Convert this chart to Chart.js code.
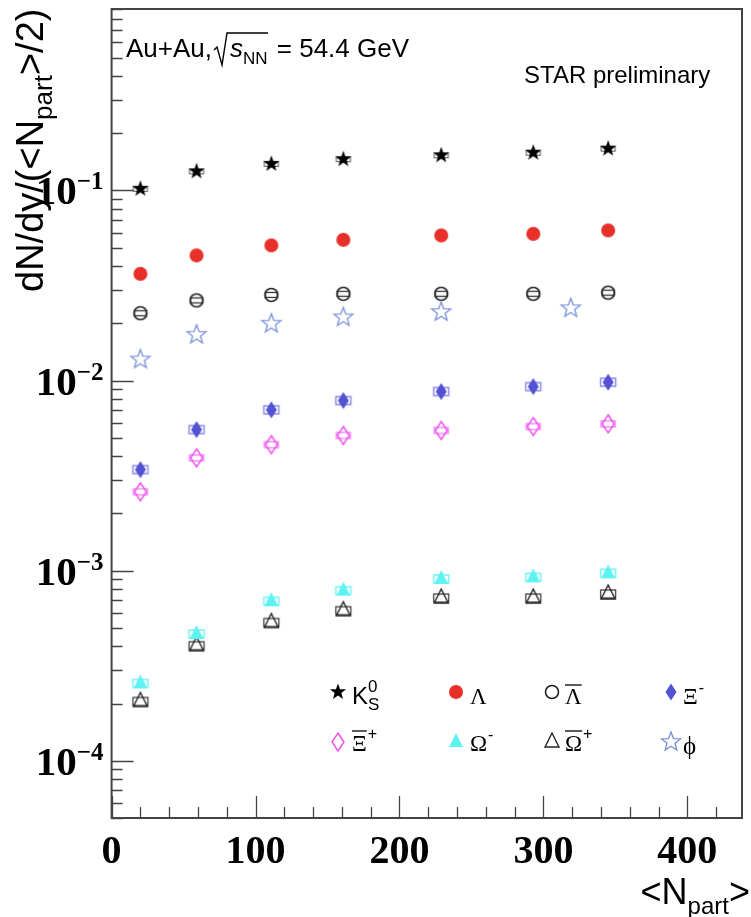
<!DOCTYPE html>
<html>
<head>
<meta charset="utf-8">
<script src="https://cdn.jsdelivr.net/npm/chart.js@4.4.1/dist/chart.umd.min.js"></script>
<style>
  html, body { margin: 0; padding: 0; background: #fff; }
  canvas { display: block; }
</style>
</head>
<body>
<canvas id="chart" width="751" height="917"></canvas>
<script>
// <Npart> per centrality class (phi has 0-10% merged)
const npart = [20, 59, 111, 161, 229, 293, 345];
const npartPhi = [20, 59, 111, 161, 229, 319];

// dN/dy / (<Npart>/2)
const k0s = [0.102, 0.126, 0.138, 0.146, 0.153, 0.158, 0.166];
const lambda = [0.0364, 0.0455, 0.0514, 0.055, 0.058, 0.0591, 0.0616];
const antiLambda = [0.0226, 0.0264, 0.0282, 0.0286, 0.0286, 0.0286, 0.029];
const xiMinus = [0.0034, 0.00552, 0.00701, 0.00785, 0.00875, 0.00929, 0.0098];
const xiPlus = [0.0026, 0.00392, 0.0046, 0.00514, 0.00546, 0.00573, 0.00592];
const omegaMinus = [0.000255, 0.000464, 0.00069, 0.000785, 0.000904, 0.000922, 0.000968];
const omegaPlus = [0.000205, 0.000403, 0.000534, 0.000616, 0.000718, 0.000718, 0.000754];
const phi = [0.0129, 0.0174, 0.0199, 0.0215, 0.0229, 0.024];

// axes
const xMajorTicks = [0, 100, 200, 300, 400];
const xTickLabels = ['0', '100', '200', '300', '400'];
const xMinorStep = 20;
const yMajorTicks = [1e-1, 1e-2, 1e-3, 1e-4];
const yTickExponents = ['\u22121', '\u22122', '\u22123', '\u22124'];
const yDecadeExps = [-5, -4, -3, -2, -1];

const SANS = '"Liberation Sans", Arial, Helvetica, sans-serif';
const SERIF = '"Liberation Serif", "Times New Roman", serif';

// ---- marker images ----
function makeMarker(size, draw) {
    const c = document.createElement('canvas');
    c.width = size; c.height = size;
    const g = c.getContext('2d');
    g.translate(size / 2, size / 2);
    draw(g);
    return c;
}
function starPath(g, R, r) {
    g.beginPath();
    for (let i = 0; i < 10; i++) {
        const a = -Math.PI / 2 + i * Math.PI / 5;
        const rad = i % 2 === 0 ? R : r;
        g.lineTo(rad * Math.cos(a), rad * Math.sin(a));
    }
    g.closePath();
}
function diamondPath(g, hw, hh) {
    g.beginPath();
    g.moveTo(0, -hh); g.lineTo(hw, 0); g.lineTo(0, hh); g.lineTo(-hw, 0);
    g.closePath();
}
function trianglePath(g, hw, top, bottom) {
    g.beginPath();
    g.moveTo(0, -top); g.lineTo(hw, bottom); g.lineTo(-hw, bottom);
    g.closePath();
}
function sysBox(g, w, h, color, lw) {
    g.strokeStyle = color; g.lineWidth = lw;
    g.strokeRect(-w / 2, -h / 2, w, h);
}

const markers = {
    k0s: (box) => makeMarker(24, g => {
        if (box) sysBox(g, 14, 5, '#555', 1);
        starPath(g, 8.5, 3.5); g.fillStyle = '#000'; g.fill();
    }),
    lambda: () => makeMarker(20, g => {
        g.beginPath(); g.arc(0, 0, 7, 0, Math.PI * 2); g.fillStyle = '#e8302a'; g.fill();
    }),
    antiLambda: (box) => makeMarker(20, g => {
        if (box) sysBox(g, 12, 5, '#333', 1.3);
        g.beginPath(); g.arc(0, 0, 6.5, 0, Math.PI * 2);
        g.strokeStyle = '#222'; g.lineWidth = 1.6; g.stroke();
    }),
    xiMinus: (box) => makeMarker(24, g => {
        if (box) sysBox(g, 15, 8, '#8a8ae6', 1.5);
        diamondPath(g, 5.5, 8.5); g.fillStyle = '#5252d2'; g.fill();
    }),
    xiPlus: (box) => makeMarker(24, g => {
        if (box) sysBox(g, 14, 6, '#f070f0', 1.2);
        diamondPath(g, 6, 9); g.strokeStyle = '#f050f0'; g.lineWidth = 1.5; g.stroke();
    }),
    omegaMinus: (box) => makeMarker(24, g => {
        if (box) sysBox(g, 15, 8, '#70f4f4', 1.5);
        trianglePath(g, 7, 9, 5); g.fillStyle = '#5ef2f2'; g.fill();
    }),
    omegaPlus: (box) => makeMarker(24, g => {
        if (box) sysBox(g, 15, 8, '#333', 1.2);
        trianglePath(g, 7, 9, 5); g.strokeStyle = '#222'; g.lineWidth = 1.4; g.stroke();
    }),
    phi: () => makeMarker(26, g => {
        starPath(g, 10, 4.2); g.strokeStyle = '#7890d8'; g.lineWidth = 1.3; g.stroke();
    })
};

function series(label, xs, ys, key) {
    return {
        label: label,
        data: xs.map((x, i) => ({ x: x, y: ys[i] })),
        pointStyle: markers[key](true),
        legendStyle: markers[key](false),
        pointRadius: 8,
        showLine: false
    };
}

const datasets = [
    series('K0S', npart, k0s, 'k0s'),
    series('Lambda', npart, lambda, 'lambda'),
    series('antiLambda', npart, antiLambda, 'antiLambda'),
    series('Xi-', npart, xiMinus, 'xiMinus'),
    series('Xi+', npart, xiPlus, 'xiPlus'),
    series('Omega-', npart, omegaMinus, 'omegaMinus'),
    series('Omega+', npart, omegaPlus, 'omegaPlus'),
    series('phi', npartPhi, phi, 'phi')
];

// ---- text helpers ----
function txt(g, s, x, y, font, color) {
    g.font = font; g.fillStyle = color || '#000';
    g.fillText(s, x, y);
    return g.measureText(s).width;
}
function overbar(g, x, y, w) {
    g.beginPath(); g.moveTo(x, y); g.lineTo(x + w, y);
    g.strokeStyle = '#000'; g.lineWidth = 1.3; g.stroke();
}

// frame, inward ticks, labels, titles, legend
const rootStyle = {
    id: 'rootStyle',
    afterDraw(chart) {
        const g = chart.ctx;
        const a = chart.chartArea;
        const xs = chart.scales.x, ys = chart.scales.y;
        g.save();
        g.textBaseline = 'alphabetic';

        // ticks
        g.strokeStyle = '#444'; g.lineWidth = 1.3;
        g.beginPath();
        xs.ticks.forEach(t => {
            const px = Math.round(xs.getPixelForValue(t.value)) + 0.5;
            const len = t.major ? 22 : 11;
            g.moveTo(px, a.bottom); g.lineTo(px, a.bottom - len);
        });
        ys.ticks.forEach(t => {
            const py = Math.round(ys.getPixelForValue(t.value)) + 0.5;
            const len = t.major ? 22 : 11;
            g.moveTo(a.left, py); g.lineTo(a.left + len, py);
        });
        g.stroke();

        // frame
        g.strokeStyle = '#444'; g.lineWidth = 2;
        g.strokeRect(a.left, a.top, a.right - a.left, a.bottom - a.top);

        // x labels
        g.fillStyle = '#000';
        g.textAlign = 'center';
        g.font = 'bold 40px ' + SERIF;
        xMajorTicks.forEach((v, i) => {
            g.fillText(xTickLabels[i], xs.getPixelForValue(v), a.bottom + 45);
        });

        // y labels 10^-n
        g.textAlign = 'left';
        yMajorTicks.forEach((v, i) => {
            const py = ys.getPixelForValue(v);
            g.font = 'bold 25px ' + SERIF;
            const we = g.measureText(yTickExponents[i]).width;
            g.font = 'bold 41px ' + SERIF;
            const wb = g.measureText('10').width;
            const right = a.left - 8;
            g.fillText('10', right - we - wb, py + 14);
            g.font = 'bold 25px ' + SERIF;
            g.fillText(yTickExponents[i], right - we, py - 1);
        });

        // y title (rotated)
        g.save();
        g.translate(43, 292);
        g.rotate(-Math.PI / 2);
        let w = txt(g, 'dN/dy/(<N', 0, 0, '38px ' + SANS);
        w += txt(g, 'part', w, 9, '26px ' + SANS);
        txt(g, '>/2)', w, 0, '38px ' + SANS);
        g.restore();

        // x title, right aligned
        g.font = '36px ' + SANS; const w1 = g.measureText('<N').width; const w3 = g.measureText('>').width;
        g.font = '24px ' + SANS; const w2 = g.measureText('part').width;
        let xt = 750 - w1 - w2 - w3;
        txt(g, '<N', xt, 904, '36px ' + SANS); xt += w1;
        txt(g, 'part', xt, 914, '24px ' + SANS); xt += w2;
        txt(g, '>', xt, 904, '36px ' + SANS);

        // Au+Au label
        let x = 126;
        x += txt(g, 'Au+Au,', x, 57, '26px ' + SANS);
        g.beginPath();
        g.moveTo(x + 2, 50); g.lineTo(x + 5, 47); g.lineTo(x + 10, 65); g.lineTo(x + 15, 33); g.lineTo(x + 56, 33);
        g.strokeStyle = '#000'; g.lineWidth = 1.4; g.stroke();
        x += 18;
        x += txt(g, 's', x, 57, 'italic 26px ' + SANS);
        x += txt(g, 'NN', x, 64, '17px ' + SANS);
        txt(g, ' = 54.4 GeV', x + 2, 57, '26px ' + SANS);

        txt(g, 'STAR preliminary', 524, 83, '24px ' + SANS);

        // legend
        const L = chart.data.datasets.map(d => d.legendStyle);
        const r1 = 692, r2 = 742, b1 = 704, b2 = 751;
        const mx = [338, 456, 552, 671], tx = [352, 470, 565, 683];
        const drawM = (img, cx, cy) => g.drawImage(img, Math.round(cx - img.width / 2), Math.round(cy - img.height / 2));
        drawM(L[0], mx[0], r1); drawM(L[1], mx[1], r1); drawM(L[2], mx[2], r1); drawM(L[3], mx[3], r1);
        drawM(L[4], mx[0], r2); drawM(L[5], mx[1], r2); drawM(L[6], mx[2], r2); drawM(L[7], mx[3], r2);

        const GK = '23px ' + SERIF;
        let wk = txt(g, 'K', tx[0], b1, '24px ' + SANS);
        txt(g, 'S', tx[0] + wk, b1 + 6, '17px ' + SANS);
        txt(g, '0', tx[0] + wk, b1 - 12, '17px ' + SANS);

        txt(g, '\u039B', tx[1], b1, GK);
        let wl = txt(g, '\u039B', tx[2], b1, GK);
        overbar(g, tx[2], b1 - 19, wl);
        let wx = txt(g, '\u039E', tx[3], b1, GK);
        txt(g, '-', tx[3] + wx + 1, b1 - 11, '16px ' + SANS);

        wx = txt(g, '\u039E', tx[0], b2, GK);
        overbar(g, tx[0], b2 - 20, wx);
        txt(g, '+', tx[0] + wx + 1, b2 - 12, '16px ' + SANS);
        let wo = txt(g, '\u03A9', tx[1], b2, GK);
        txt(g, '-', tx[1] + wo + 1, b2 - 11, '16px ' + SANS);
        wo = txt(g, '\u03A9', tx[2], b2, GK);
        overbar(g, tx[2], b2 - 20, wo);
        txt(g, '+', tx[2] + wo + 1, b2 - 12, '16px ' + SANS);
        txt(g, '\u03D5', tx[3], b2 + 3, '25px ' + SERIF);

        g.restore();
    }
};

new Chart(document.getElementById('chart'), {
    type: 'scatter',
    data: { datasets: datasets },
    options: {
        responsive: false,
        animation: false,
        layout: { padding: { top: 9, right: 4, left: 0, bottom: 0 } },
        plugins: { legend: { display: false }, tooltip: { enabled: false } },
        scales: {
            x: {
                type: 'linear', min: 0, max: 438,
                grid: { display: false }, border: { display: false },
                ticks: { display: false },
                afterBuildTicks: s => {
                    const t = [];
                    for (let v = 0; v <= s.max; v += xMinorStep) t.push({ value: v, major: xMajorTicks.includes(v) });
                    s.ticks = t;
                },
                afterFit: s => { s.height = 99; }
            },
            y: {
                type: 'logarithmic', min: 5e-5, max: 0.9,
                grid: { display: false }, border: { display: false },
                ticks: { display: false },
                afterBuildTicks: s => {
                    const t = [];
                    yDecadeExps.forEach(e => {
                        for (let m = 1; m <= 9; m++) {
                            const v = m * Math.pow(10, e);
                            if (v >= s.min * 0.999 && v <= s.max * 1.001) t.push({ value: v, major: m === 1 });
                        }
                    });
                    s.ticks = t;
                },
                afterFit: s => { s.width = 111.6; }
            }
        }
    },
    plugins: [rootStyle]
});
</script>
</body>
</html>
